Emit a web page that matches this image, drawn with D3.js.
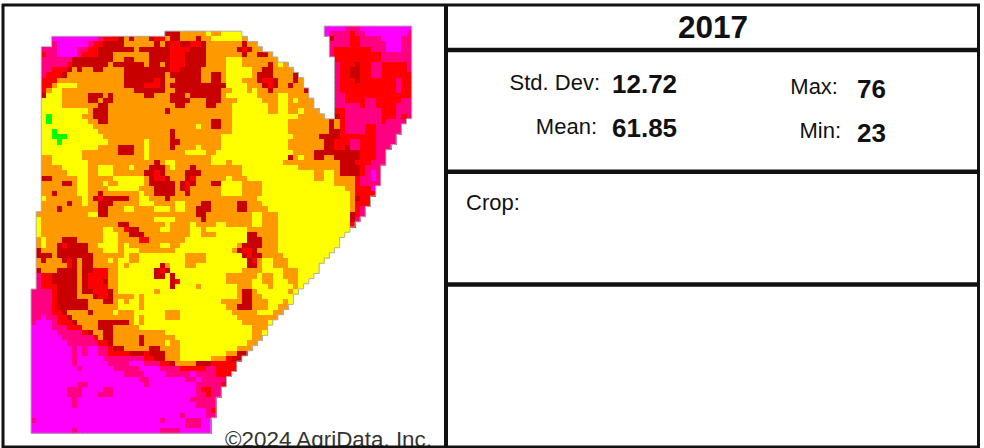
<!DOCTYPE html>
<html lang="en">
<head>
<meta charset="utf-8">
<title>2017 yield map</title>
<script src="https://d3js.org/d3.v7.min.js"></script>
<style>
  html, body { margin: 0; padding: 0; background: #fff; }
  svg { display: block; }
  text { font-family: "Liberation Sans", Arial, sans-serif; fill: #111; }
</style>
</head>
<body>
<script>
// yield zones, lowest to highest
const zoneCodes = ["M", "P", "R", "D", "O", "Y", "G"];
const zoneColors = ["#ff00ff", "#ff0080", "#ff0000", "#c80000", "#ff9900", "#ffff00", "#00ff00"];

// one string per grid row: "column+zone" starts a run, "." means outside the field
const gridRows = [
  "57M 61P 64M 74.",
  "26D 29O 34Y 35O 37Y 41. 57M 58P 62R 63P 65M 73P 74.",
  "4M 13P 14R 17D 18O 19D 20O 23D 24R 26O 27D 29O 32D 33O 35Y 41O 42. 58D 59P 62R 64P 68M 72P 74.",
  "4P 5M 11P 12R 14D 18O 24D 25O 26D 27R 29D 31R 33D 34O 41D 42O 44. 58P 62R 64P 69M 72P 74.",
  "2P 5M 9P 11R 13D 20O 21D 27R 31D 34O 40D 41R 42D 43O 45. 58P 59R 66P 69M 72P 74.",
  "2R 3P 5M 9P 10R 13D 16O 23D 27R 30D 34O 41D 42O 44D 46O 47. 58P 59R 68P 74.",
  "2P 8D 16O 18D 20O 23D 27R 30D 34O 38Y 41O 48. 59R 68P 74.",
  "2P 7R 8D 15O 16D 22O 23D 25O 26D 27R 30D 34O 38Y 41O 46D 47O 48Y 49O 50. 59P 60R 63D 64R 66P 68R 73P 74.",
  "2P 4R 7D 8O 9D 10O 12D 14O 18D 27R 29D 33O 38Y 43O 45D 47O 51. 59P 60R 62D 64R 66P 68R 73P 74.",
  "2P 3R 6D 7O 18D 26O 27D 33O 35D 37O 38Y 43O 44D 47O 51D 52. 59P 60R 62D 64R 66P 68R 74.",
  "2R 5O 18D 24R 25D 26O 28D 33O 35D 37O 38Y 41O 44D 45R 47D 48O 51D 52O 53. 59P 60R 63D 64R 71P 72R 74.",
  "2R 4O 5Y 9O 18D 22R 25D 26O 27D 38Y 42O 45D 46R 47D 48O 50D 51O 53. 59P 60R 71P 72R 74.",
  "2R 3O 4Y 6O 20D 26O 28D 37O 39Y 42O 43Y 44O 46D 47O 53D 54. 59P 60R 71P 72R 74.",
  "2D 3Y 6O 11D 14O 15D 16O 22D 24O 27D 30O 31D 37O 38Y 44O 48Y 50O 54. 59P 61R 74.",
  "2Y 6O 11D 13O 14D 16O 27D 31O 34D 37O 40Y 45O 48Y 50O 51Y 52O 55. 59P 61R 65P 67R 72P 74.",
  "2Y 6O 13D 15O 28D 30O 34D 36O 39Y 46O 48Y 50O 55. 59P 64R 65P 67R 71P 74.",
  "2Y 11O 12D 15O 26D 27O 39Y 46O 48Y 50O 52Y 53O 56. 59R 61P 68R 71P 74.",
  "2Y 3G 4Y 10O 12D 15O 39Y 52O 57. 59D 60R 61P 68R 71P 72R 73P 74.",
  "2Y 3G 4Y 11O 13D 15O 35D 37O 39Y 50O 58D 59O 60R 61P 68R 69P 73.",
  "2Y 12O 32Y 33O 35D 37O 39Y 50O 58D 59O 60R 61P 65R 67P 72.",
  "2Y 4G 5Y 13O 27D 28O 39Y 50O 58D 60R 61P 65R 67P 72.",
  "2Y 4G 7Y 14O 27D 28O 37Y 51O 56D 60R 67P 71.",
  "2Y 5G 6Y 15O 22Y 23O 27D 29O 37Y 50O 57D 59R 62P 64R 67P 71.",
  "2Y 13O 17D 20O 22Y 23O 27D 28O 32Y 33O 37Y 50O 57D 59R 61D 62P 64R 67P 70.",
  "2Y 10O 17D 20O 22Y 23O 30Y 34O 36Y 51O 55D 64R 67P 69.",
  "2O 4Y 10O 22Y 23O 35Y 50D 51O 52Y 53O 55D 57O 59D 64R 67P 69.",
  "2O 4Y 11O 24D 25O 26Y 28O 35Y 38O 39Y 49O 60D 63R 66P 69.",
  "2O 6Y 11O 13Y 16O 19Y 20O 23D 26O 27Y 28O 31D 32O 41Y 52O 60D 64R 65P 68.",
  "2O 7Y 11O 13Y 16O 22D 24R 25D 26O 30D 33O 41Y 55O 57Y 59O 60D 64R 65P 66M 67P 68.",
  "2D 4O 9Y 11O 16Y 22O 23D 24R 26D 27O 30D 31R 32O 38Y 39O 42Y 55O 57Y 59O 63R 64P 66M 67P 68.",
  "2O 6D 8O 9Y 11O 14Y 15O 17Y 22O 23D 28O 29D 30R 31D 32O 35D 37Y 41O 45Y 59O 63R 64P 68.",
  "2O 9Y 11O 15Y 21O 24D 28O 29D 30R 31O 37Y 41O 45Y 61O 63R 66M 67.",
  "2O 4D 5O 9Y 11O 13D 14O 21Y 22O 24D 28O 30D 31O 37Y 41O 45Y 62O 63R 67.",
  "2Y 3O 10Y 11O 12D 13R 14D 19O 21Y 23O 26D 27O 44Y 62O 63D 64R 66.",
  "2O 7D 8O 10Y 11O 13D 16O 21Y 24O 28Y 30O 33D 35O 40D 42O 45Y 62O 63R 66.",
  "2O 5D 6O 13D 15O 18Y 20O 24Y 27O 28Y 30O 32D 35O 40D 42O 46Y 62O 63R 64P 65.",
  "1O 11Y 13D 15O 32D 34O 43Y 45O 48Y 62D 63R 64P 65.",
  "1Y 2O 24Y 28O 33D 34O 43Y 45O 48Y 62D 63P 64.",
  "1Y 2O 17D 19O 26Y 27O 31Y 32O 36Y 38O 43Y 45O 48Y 62R 63.",
  "1Y 2O 14Y 16O 18R 19D 21O 25Y 27O 31Y 33O 34Y 42O 48Y 62.",
  "1Y 2O 14Y 17O 19D 22O 31Y 33O 36Y 42D 44O 48Y 61.",
  "1O 2Y 3O 6D 9O 14Y 17O 21R 23O 30Y 42D 45O 48Y 60.",
  "1O 2Y 3O 5D 6R 7D 11O 13Y 17O 18Y 19O 25Y 27O 29Y 40O 41D 45O 48Y 60.",
  "1D 2O 5D 11O 14Y 17O 18Y 21O 28Y 39O 40D 41R 43D 44O 48Y 59.",
  "1D 4O 5D 12O 18Y 19O 21Y 30O 34Y 41D 42R 43D 45O 49Y 58.",
  "1O 2D 3O 6D 7R 8D 9O 10D 12O 15Y 16O 17Y 19O 21Y 30O 34Y 42D 43R 44O 45Y 47O 50Y 57.",
  "1O 7R 8D 9O 10D 12O 17Y 18O 19Y 25D 26O 27Y 30O 32Y 42D 44O 45Y 47O 50Y 56.",
  "1D 2O 5D 9O 10D 12R 15O 17Y 24D 25R 26D 27Y 41O 45Y 49O 52Y 56.",
  "1P 2R 4D 9O 10D 11R 15O 17Y 24D 26Y 27D 28Y 38O 44Y 45O 47Y 49O 52Y 55.",
  "1P 2R 4D 9O 10D 11R 14D 15O 17Y 27D 28R 29Y 38O 43Y 45O 47Y 50O 52Y 54.",
  "1P 2R 5D 9O 10D 11R 15O 17Y 27D 28Y 32O 33Y 40O 43Y 46O 47Y 51O 52Y 53.",
  "0P 4R 5D 9O 10D 12R 15D 16O 17Y 24O 25Y 40O 41D 43O 44Y 50O 51Y 52.",
  "0P 4R 5D 9O 12D 13R 15D 16O 20Y 21O 22Y 40O 41D 43O 45Y 51.",
  "0P 4R 5D 11O 14D 16O 17Y 18O 19Y 21O 22Y 37O 41D 43O 46Y 49O 50Y 51.",
  "0P 4R 5D 11O 17Y 21O 22Y 38O 40D 43O 46Y 48O 50.",
  "0P 4R 6D 7O 11D 12O 16Y 17O 20Y 26O 29Y 39O 44Y 47O 49.",
  "0P 2M 3P 5R 7D 8O 20Y 21O 22Y 26O 29Y 40O 48.",
  "0P 1M 4P 5R 8D 9O 13D 19O 20Y 21O 22Y 41O 46Y 47.",
  "0M 4P 7R 10O 13D 16O 21Y 43O 46.",
  "0M 5P 10R 11D 12O 14D 16O 26Y 43O 45Y 46.",
  "0M 6P 12R 13O 14D 16O 21D 22O 28Y 43O 45.",
  "0M 7P 13R 15D 16O 21D 22O 26Y 27O 29Y 42O 44.",
  "0M 8P 9M 10P 11M 13P 15R 16D 18O 23D 25O 29Y 40O 43.",
  "0M 8P 9M 10P 11M 13P 15R 19D 22R 23D 26O 29Y 38O 40D 42.",
  "0M 8P 9M 14P 22R 24D 26O 29Y 35O 38R 39D 41.",
  "0M 8P 9M 15P 19M 22P 25R 27D 28O 32D 35R 40.",
  "0M 9P 10M 16P 21M 25P 29R 34P 36R 40.",
  "0M 18P 22M 26P 31M 32P 36R 39.",
  "0M 21P 23M 30P 32M 33P 38.",
  "0M 9P 11M 22P 23M 32P 37R 38.",
  "0M 7P 10M 14P 16M 32P 33R 35P 37.",
  "0M 7P 10M 13P 16M 32P 34R 35P 37.",
  "0M 8P 9M 31P 36.",
  "0M 8P 9M 32P 36.",
  "0M 34P 35R 36.",
  "0M 29P 30M 34P 36.",
  "0P 1M 25P 26M 30P 33M 35.",
  "0M 30P 33M 35.",
  "0M 8P 9M 25P 29M 35."
];

const yearLabel = "2017";
const statLabels = ["Std. Dev:", "Mean:", "Max:", "Min:"];
const statValues = ["12.72", "61.85", "76", "23"];
const cropLabel = "Crop:";
const creditLabel = "\u00a92024 AgriData, Inc.";

const width = 984;
const height = 448;
const colCount = 74;

const svg = d3.select("body").append("svg")
    .attr("width", width)
    .attr("height", height);

// expand the runs into one entry per grid cell
const cells = [];
gridRows.forEach((line, r) => {
  const tokens = line.split(" ");
  tokens.forEach((t, i) => {
    const code = t.slice(-1);
    if (code === ".") return;
    const start = +t.slice(0, -1);
    const end = +tokens[i + 1].slice(0, -1);
    for (let c = start; c < end; c++) cells.push({ r, c, code });
  });
});
const filled = new Set(cells.map(d => d.r + "," + d.c));

const x = d3.scaleBand().domain(d3.range(colCount)).range([31, 31 + colCount * 5.144]);
const y = d3.scaleBand().domain(d3.range(gridRows.length)).range([26, 433.3]);
const color = d3.scaleOrdinal().domain(zoneCodes).range(zoneColors);

svg.append("g")
    .attr("shape-rendering", "crispEdges")
  .selectAll("rect")
  .data(cells)
  .join("rect")
    .attr("x", d => x(d.c))
    .attr("y", d => y(d.r))
    .attr("width", x.bandwidth() + 0.5)
    .attr("height", y.bandwidth() + 0.5)
    .attr("fill", d => color(d.code));

// thin grey edge round the field
const edge = d3.path();
cells.forEach(d => {
  const x0 = x(d.c), x1 = x0 + x.bandwidth();
  const y0 = y(d.r), y1 = y0 + y.bandwidth();
  if (!filled.has(d.r + "," + (d.c + 1))) { edge.moveTo(x1, y0); edge.lineTo(x1, y1); }
  if (!filled.has(d.r + "," + (d.c - 1))) { edge.moveTo(x0, y0); edge.lineTo(x0, y1); }
  if (!filled.has((d.r + 1) + "," + d.c)) { edge.moveTo(x0, y1); edge.lineTo(x1, y1); }
  if (!filled.has((d.r - 1) + "," + d.c)) { edge.moveTo(x0, y0); edge.lineTo(x1, y0); }
});
svg.append("path")
    .attr("d", edge.toString())
    .attr("fill", "none")
    .attr("stroke", "#b0b0b0")
    .attr("stroke-width", 1);

svg.append("text")
    .attr("x", 432).attr("y", 447)
    .attr("text-anchor", "end")
    .attr("font-size", 22.4)
    .style("fill", "#333")
    .text(creditLabel);

// panel rules
const hLines = [
  { x1: 2, x2: 980, y: 5, w: 3 },
  { x1: 446, x2: 980, y: 50, w: 4.5 },
  { x1: 446, x2: 980, y: 171.7, w: 4.5 },
  { x1: 446, x2: 980, y: 284.5, w: 4.5 },
  { x1: 2, x2: 980, y: 447, w: 3 }
];
const vLines = [
  { x: 3, y1: 4, y2: 448, w: 3 },
  { x: 446, y1: 4, y2: 448, w: 4 },
  { x: 978.5, y1: 4, y2: 448, w: 3 }
];
svg.selectAll(".h").data(hLines).join("line").attr("class", "h")
    .attr("x1", d => d.x1).attr("x2", d => d.x2)
    .attr("y1", d => d.y).attr("y2", d => d.y)
    .attr("stroke", "#111").attr("stroke-width", d => d.w);
svg.selectAll(".v").data(vLines).join("line").attr("class", "v")
    .attr("x1", d => d.x).attr("x2", d => d.x)
    .attr("y1", d => d.y1).attr("y2", d => d.y2)
    .attr("stroke", "#111").attr("stroke-width", d => d.w);

svg.append("text")
    .attr("x", 713).attr("y", 38.3)
    .attr("text-anchor", "middle")
    .attr("font-size", 31.5)
    .attr("font-weight", "bold")
    .text(yearLabel);

const labelX = [600, 597, 838, 841];
const labelY = [90, 134, 94, 138];
const valueX = [612, 612, 857, 857];
const valueY = [93, 136.7, 98.3, 142.3];

svg.selectAll(".stat-label").data(statLabels).join("text").attr("class", "stat-label")
    .attr("x", (d, i) => labelX[i]).attr("y", (d, i) => labelY[i])
    .attr("text-anchor", "end")
    .attr("font-size", 22)
    .text(d => d);
svg.selectAll(".stat-value").data(statValues).join("text").attr("class", "stat-value")
    .attr("x", (d, i) => valueX[i]).attr("y", (d, i) => valueY[i])
    .attr("font-size", 26)
    .attr("font-weight", "bold")
    .text(d => d);

svg.append("text")
    .attr("x", 466).attr("y", 210)
    .attr("font-size", 22)
    .text(cropLabel);
</script>
</body>
</html>
